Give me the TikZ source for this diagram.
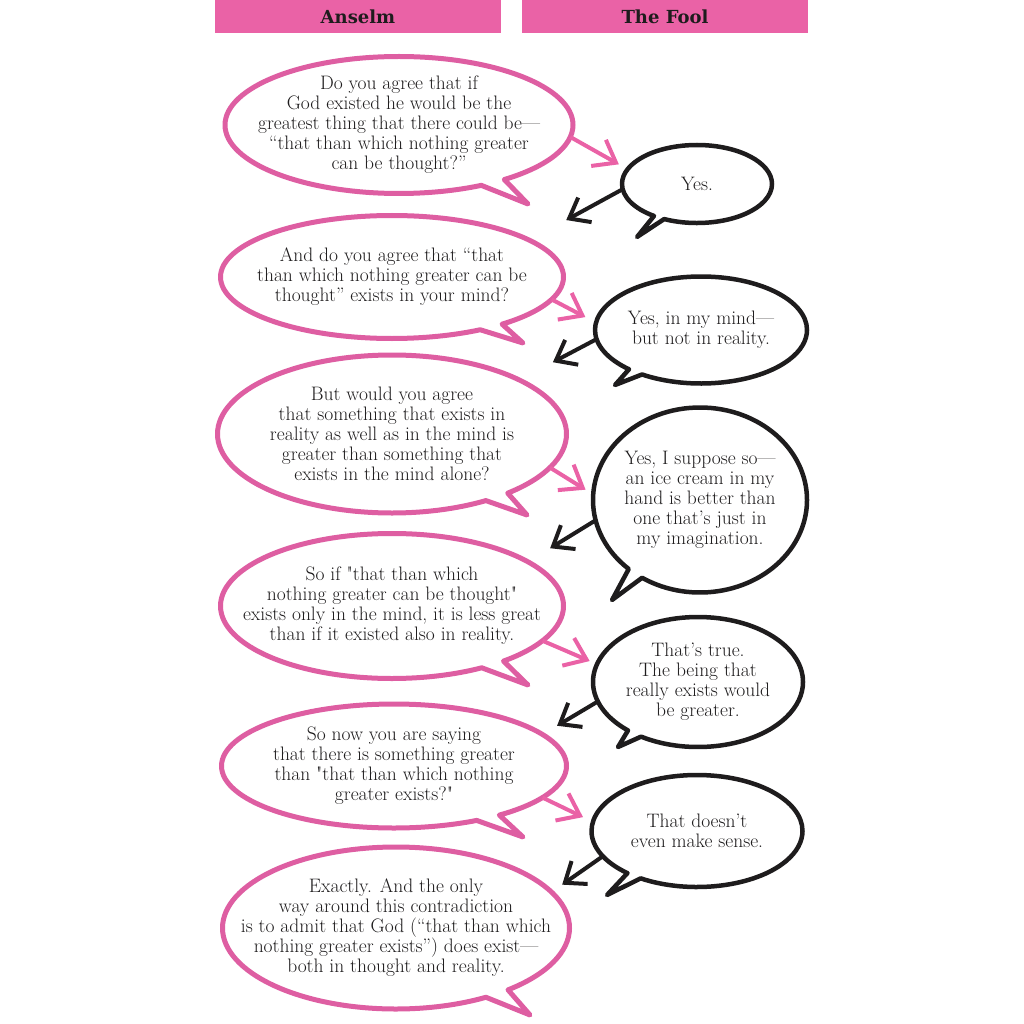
\documentclass[tikz,border=0pt]{standalone}
\usepackage{fontspec}
\usepackage{tikz}
\usetikzlibrary{shapes.callouts,arrows.meta}
\newfontfamily\headfont{DejaVu Serif}
\definecolor{anselmpink}{RGB}{234,98,166}
\definecolor{crayon}{RGB}{222,94,162}
\definecolor{ink}{RGB}{30,28,29}

\begin{document}
\begin{tikzpicture}[x=1pt,y=-1pt,
  header/.style={fill=anselmpink, minimum width=286pt, minimum height=33pt, inner sep=0pt,
    font=\headfont\bfseries\fontsize{18}{20}\selectfont, text=ink},
  bubble/.style={ellipse callout, fill=white, align=center, inner xsep=-40pt, inner ysep=-30pt,
    outer sep=0pt, callout pointer arc=9, line join=round, font=\fontsize{19.5}{20}\selectfont, text=ink},
  anselm/.style={bubble, draw=crayon, line width=5pt},
  fool/.style={bubble, draw=ink, line width=4.5pt},
  ask/.style={anselmpink, line width=4pt, -{Straight Barb[length=20pt,width=30pt]}},
  reply/.style={ink, line width=4pt, -{Straight Barb[length=18pt,width=28pt]}}]

  \useasboundingbox (0,0) rectangle (1024,1024);

  % Headers
  \node[header] (anselmhead) at (358,16.5) {Anselm};
  \node[header] (foolhead) at (665,16.5) {The Fool};

  % Anselm's side
  \node[anselm, minimum width=348pt, minimum height=137pt, callout absolute pointer={(528,204)}]
    (a1) at (399,125) {Do you agree that if\\God existed he would be the\\greatest thing that there could be---\\``that than which nothing greater\\can be thought?''};
  \node[anselm, minimum width=343pt, minimum height=123pt, callout absolute pointer={(523,343)}]
    (a2) at (392,277) {And do you agree that ``that\\than which nothing greater can be\\thought'' exists in your mind?};
  \node[anselm, minimum width=349pt, minimum height=158pt, callout absolute pointer={(527,515)}]
    (a3) at (392,434) {But would you agree\\that something that exists in\\reality as well as in the mind is\\greater than something that\\exists in the mind alone?};
  \node[anselm, minimum width=343pt, minimum height=145pt, callout absolute pointer={(528,685)}]
    (a4) at (392,606) {So if \textquotedbl that than which\\nothing greater can be thought\textquotedbl\\exists only in the mind, it is less great\\than if it existed also in reality.};
  \node[anselm, minimum width=345pt, minimum height=124pt, callout absolute pointer={(523,837)}]
    (a5) at (394,766) {So now you are saying\\that there is something greater\\than \textquotedbl that than which nothing\\greater exists?\textquotedbl};
  \node[anselm, minimum width=347pt, minimum height=162pt, callout absolute pointer={(530,1015)}]
    (a6) at (396,928) {Exactly. And the only\\way around this contradiction\\is to admit that God (``that than which\\nothing greater exists'') does exist---\\both in thought and reality.};

  % The Fool's side
  \node[fool, minimum width=150pt, minimum height=78pt, callout absolute pointer={(637,237)}]
    (f1) at (697,184) {Yes.};
  \node[fool, minimum width=212pt, minimum height=107pt, callout absolute pointer={(615,385)}]
    (f2) at (701,330) {Yes, in my mind---\\but not in reality.};
  \node[fool, minimum width=214pt, minimum height=185pt, callout absolute pointer={(612,600)}]
    (f3) at (700,500) {Yes, I suppose so---\\an ice cream in my\\hand is better than\\one that's just in\\my imagination.};
  \node[fool, minimum width=210pt, minimum height=130pt, callout absolute pointer={(618,747)}]
    (f4) at (698,682) {That's true.\\The being that\\really exists would\\be greater.};
  \node[fool, minimum width=211pt, minimum height=112pt, callout absolute pointer={(607,895)}]
    (f5) at (697,831) {That doesn't\\even make sense.};

  % Anselm -> Fool
  \draw[ask, shorten >=10pt] (a1.-4) -- (f1.168);
  \draw[ask, shorten >=12pt] (a2.-8) -- (f2.176);
  \draw[ask, shorten >=9pt] (a3.-12) -- (f3.177);
  \draw[ask, shorten >=8pt] (a4.-13) -- (f4.170);
  \draw[ask, shorten >=11pt] (a5.-12) -- (f5.175);

  % Fool -> Anselm
  \draw[reply, shorten >=42pt] (f1.184) -- (a2.15);
  \draw[reply, shorten >=38pt] (f2.185) -- (a3.23);
  \draw[reply, shorten >=26pt] (f3.191) -- (a4.18);
  \draw[reply, shorten >=17pt] (f4.191) -- (a5.12);
  \draw[reply, shorten >=13pt] (f5.195) -- (a6.13);

\end{tikzpicture}
\end{document}
